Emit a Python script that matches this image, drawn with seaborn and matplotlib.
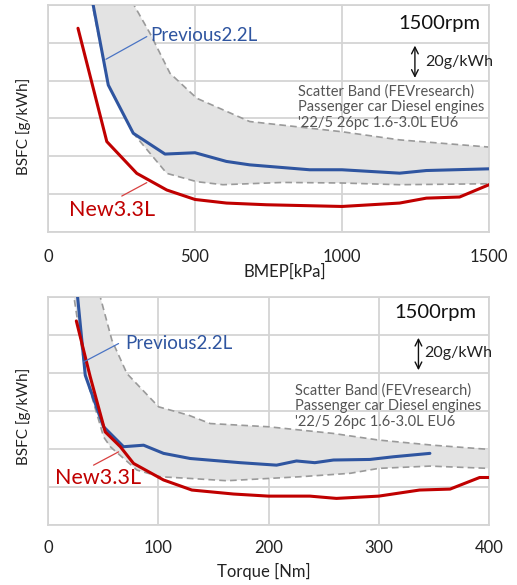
import numpy as np
import pandas as pd
import seaborn as sns
import matplotlib.pyplot as plt

# ---- data (BSFC in g/kWh, y axis unlabelled) ----
# top panel: BMEP [kPa]
bmep_new_x = [102, 200, 302, 404, 500, 607, 743, 1000, 1196, 1287, 1400, 1500]
bmep_new_y = [287.7, 227.8, 211.0, 202.2, 197.2, 195.3, 194.4, 193.5, 195.3, 197.9, 198.5, 205.0]

bmep_prev_x = [150, 205, 290, 398, 500, 607, 686, 890, 1000, 1196, 1287, 1500]
bmep_prev_y = [303.0, 257.7, 232.2, 221.2, 221.9, 217.3, 215.5, 212.9, 212.9, 211.1, 212.5, 213.4]

bmep_band_up_x = [285, 347, 415, 506, 686, 1000, 1196, 1500]
bmep_band_up_y = [302.0, 285.0, 263.9, 250.7, 238.4, 233.0, 228.7, 224.9]
bmep_band_lo_x = [146, 205, 290, 404, 506, 595, 799, 1000, 1196, 1500]
bmep_band_lo_y = [304.0, 257.7, 232.2, 211.0, 206.6, 205.0, 206.2, 205.9, 205.0, 205.5]

# bottom panel: Torque [Nm]
trq_new_x = [25.7, 38.3, 51.9, 65.6, 77.6, 104.8, 130.5, 168.3, 200, 237.5, 261.6, 300, 337, 364.7, 391.5, 400]
trq_new_y = [287.4, 258.0, 229.0, 221.2, 212.4, 203.7, 198.4, 196.3, 195.2, 195.2, 194.0, 195.2, 198.4, 198.9, 205.0, 205.0]

trq_prev_x = [26.5, 33.8, 50.4, 68.5, 86.7, 104.8, 129, 174.3, 207.3, 225.4, 242, 258.9, 292, 313.2, 346.4]
trq_prev_y = [302.0, 258.8, 231.7, 221.2, 222.0, 217.7, 215.0, 212.8, 211.5, 213.7, 212.8, 214.2, 214.5, 215.9, 217.7]

trq_band_up_x = [46.5, 58, 71.6, 100.3, 127.5, 147.1, 200, 258.6, 300, 349.2, 400]
trq_band_up_y = [302.0, 277.2, 259.7, 242.2, 237.8, 233.4, 231.7, 228.2, 224.7, 222.0, 219.8]
trq_band_lo_x = [22.5, 34.5, 50.4, 56.5, 80.7, 101.8, 129, 162.2, 228.7, 274, 300, 346.4, 400]
trq_band_lo_y = [304.0, 258.0, 226.4, 221.2, 208.9, 205.4, 204.5, 203.3, 205.4, 207.2, 209.8, 211.0, 209.8]

series_names = ["New3.3L", "Previous2.2L"]
rpm_label = "1500rpm"
step_label = "20g/kWh"
band_text = "Scatter Band (FEVresearch)\nPassenger car Diesel engines\n'22/5 26pc 1.6-3.0L EU6"

RED = "#c00000"
BLUE = "#2f55a0"
GRID = "#d4d4d4"

sns.set_theme(style="whitegrid")
plt.rcParams['font.family'] = ['Lato', 'DejaVu Sans']

fig = plt.figure(figsize=(5.17, 5.85), dpi=100)
ax1 = fig.add_axes([48 / 517, 1 - 232 / 585, 441 / 517, 227 / 585])
ax2 = fig.add_axes([48 / 517, 1 - 525 / 585, 441 / 517, 228 / 585])


def draw_panel(ax, new_x, new_y, prev_x, prev_y, up_x, up_y, lo_x, lo_y):
    # scatter band polygon (upper edge then lower edge reversed)
    poly_x = list(up_x) + list(lo_x)[::-1]
    poly_y = list(up_y) + list(lo_y)[::-1]
    ax.fill(poly_x, poly_y, color="#e3e3e3", zorder=1, lw=0)
    sns.lineplot(x=up_x, y=up_y, ax=ax, color="#9a9a9a", lw=1.2, ls=(0, (4, 2.5)),
                 estimator=None, sort=False, zorder=2)
    sns.lineplot(x=lo_x, y=lo_y, ax=ax, color="#9a9a9a", lw=1.2, ls=(0, (4, 2.5)),
                 estimator=None, sort=False, zorder=2)
    sns.lineplot(x=prev_x, y=prev_y, ax=ax, color=BLUE, lw=2.2, estimator=None,
                 sort=False, zorder=3)
    sns.lineplot(x=new_x, y=new_y, ax=ax, color=RED, lw=2.2, estimator=None,
                 sort=False, zorder=4)

    ax.set_ylim(180, 300)
    ax.set_yticks(np.arange(180, 301, 20))
    ax.set_yticklabels([])
    ax.grid(True, color=GRID, lw=1.3)
    for s in ax.spines.values():
        s.set_visible(True)
        s.set_color(GRID)
        s.set_linewidth(1.3)
    ax.tick_params(length=0, labelsize=12, colors="#222222")
    ax.set_ylabel("BSFC [g/kWh]", fontsize=11, color="#222222")


# ---- top: BMEP ----
draw_panel(ax1, bmep_new_x, bmep_new_y, bmep_prev_x, bmep_prev_y,
           bmep_band_up_x, bmep_band_up_y, bmep_band_lo_x, bmep_band_lo_y)
ax1.set_xlim(0, 1500)
ax1.set_xticks([0, 500, 1000, 1500])
ax1.tick_params(axis="x", pad=12)
ax1.set_xlabel("BMEP[kPa]", fontsize=12, color="#222222")
ax1.xaxis.set_label_coords(0.537, -0.14)
ax1.yaxis.set_label_coords(-0.038, 0.467)

ax1.text(1469, 290, rpm_label, fontsize=14.5, ha="right", va="center", color="#111111")
ax1.annotate("", xy=(1248, 280), xytext=(1248, 260),
             arrowprops=dict(arrowstyle="<->", color="#111111", lw=1.0))
ax1.text(1282, 270, step_label, fontsize=11.5, ha="left", va="center", color="#222222")
ax1.text(850, 246, band_text, fontsize=10.5, ha="left", va="center", color="#555555",
         linespacing=1.15)
ax1.text(349, 283.8, series_names[1], fontsize=13.5, ha="left", va="center", color=BLUE)
ax1.plot([336, 197], [283.3, 271.3], color="#4a74c4", lw=0.9, zorder=5)
ax1.text(71, 191.6, series_names[0], fontsize=15.5, ha="left", va="center", color=RED)
ax1.plot([251, 336], [199, 206.1], color="#d84040", lw=0.9, zorder=5)

# ---- bottom: Torque ----
draw_panel(ax2, trq_new_x, trq_new_y, trq_prev_x, trq_prev_y,
           trq_band_up_x, trq_band_up_y, trq_band_lo_x, trq_band_lo_y)
ax2.set_xlim(0, 400)
ax2.set_xticks([0, 100, 200, 300, 400])
ax2.tick_params(axis="x", pad=11)
ax2.set_xlabel("Torque [Nm]", fontsize=12, color="#222222")
ax2.xaxis.set_label_coords(0.49, -0.165)
ax2.yaxis.set_label_coords(-0.038, 0.478)

ax2.text(388.9, 291.6, rpm_label, fontsize=14.5, ha="right", va="center", color="#111111")
ax2.annotate("", xy=(336, 280), xytext=(336, 260),
             arrowprops=dict(arrowstyle="<->", color="#111111", lw=1.0))
ax2.text(341, 270.6, step_label, fontsize=11.5, ha="left", va="center", color="#222222")
ax2.text(224, 242.7, band_text, fontsize=10.5, ha="left", va="center", color="#555555",
         linespacing=1.15)
ax2.text(70, 275.5, series_names[1], fontsize=13.5, ha="left", va="center", color=BLUE)
ax2.plot([64, 32.3], [275.5, 265.8], color="#4a74c4", lw=0.9, zorder=5)
ax2.text(6.6, 204.5, series_names[0], fontsize=15.5, ha="left", va="center", color=RED)
ax2.plot([41.3, 64], [211.5, 218.5], color="#d84040", lw=0.9, zorder=5)

fig.savefig("out.png", dpi=100, facecolor="white")
